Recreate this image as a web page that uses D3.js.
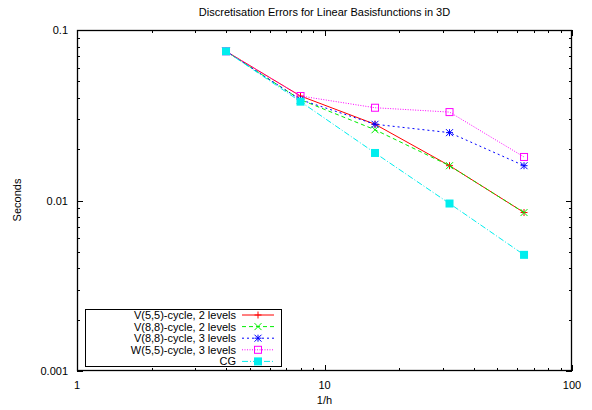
<!DOCTYPE html>
<html>
<head>
<meta charset="utf-8">
<script src="https://cdn.jsdelivr.net/npm/d3@7"></script>
<style>
  html, body { margin: 0; padding: 0; background: #fff; }
  svg { display: block; font-family: "Liberation Sans", Arial, sans-serif; }
</style>
</head>
<body>
<svg id="chart" width="592" height="410"></svg>
<script>
// Mesh refinement 1/h
const meshSizes = [4, 8, 16, 32, 64];

// Time per solver (seconds)
const v55two   = [0.075, 0.041, 0.028, 0.016, 0.0085];
const v88two   = [0.075, 0.039, 0.026, 0.016, 0.0085];
const v88three = [0.075, 0.039, 0.028, 0.025, 0.016];
const w55three = [0.075, 0.041, 0.035, 0.033, 0.018];
const cgTimes  = [0.075, 0.038, 0.019, 0.0096, 0.0048];

const seriesNames = [
  "V(5,5)-cycle, 2 levels",
  "V(8,8)-cycle, 2 levels",
  "V(8,8)-cycle, 3 levels",
  "W(5,5)-cycle, 3 levels",
  "CG"
];

const xTickValues = [1, 10, 100];
const xTickLabels = ["1", "10", "100"];
const yTickValues = [0.001, 0.01, 0.1];
const yTickLabels = ["0.001", "0.01", "0.1"];

const chartTitle = "Discretisation Errors for Linear Basisfunctions in 3D";
const xTitle = "1/h";
const yTitle = "Seconds";

const seriesValues = [v55two, v88two, v88three, w55three, cgTimes];
const styles = [
  { color: "#ff0000", dash: null,        marker: "plus" },
  { color: "#00ee00", dash: "4,3",       marker: "cross" },
  { color: "#0000ff", dash: "2,3",       marker: "star" },
  { color: "#ff00ff", dash: "1,1.5",     marker: "openSquare" },
  { color: "#00eeee", dash: "6,2,1,2",   marker: "filledSquare" }
];

(function draw() {
  const svg = d3.select("#chart");
  const pLeft = 77, pRight = 572, pTop = 30, pBottom = 371;
  const fontSize = 11;

  const x = d3.scaleLog().domain([1, 100]).range([pLeft, pRight]);
  const y = d3.scaleLog().domain([0.001, 0.1]).range([pBottom, pTop]);

  // Minor ticks at 2..9 of each decade
  function minorTicks(domain) {
    const out = [];
    for (let e = Math.log10(domain[0]); e < Math.log10(domain[1]); e++) {
      for (let k = 2; k <= 9; k++) out.push(k * Math.pow(10, e));
    }
    return out;
  }

  // Ticks drawn inward on all four sides
  const tickG = svg.append("g").attr("stroke", "#000").attr("stroke-width", 1);
  const majorLen = 6, minorLen = 3;

  minorTicks([1, 100]).forEach(v => {
    const px = Math.round(x(v)) + 0.5;
    tickG.append("line").attr("x1", px).attr("x2", px).attr("y1", pBottom).attr("y2", pBottom - minorLen);
    tickG.append("line").attr("x1", px).attr("x2", px).attr("y1", pTop).attr("y2", pTop + minorLen);
  });
  xTickValues.forEach(v => {
    const px = Math.round(x(v)) + 0.5;
    tickG.append("line").attr("x1", px).attr("x2", px).attr("y1", pBottom).attr("y2", pBottom - majorLen);
    tickG.append("line").attr("x1", px).attr("x2", px).attr("y1", pTop).attr("y2", pTop + majorLen);
  });
  minorTicks([0.001, 0.1]).forEach(v => {
    const py = Math.round(y(v)) + 0.5;
    tickG.append("line").attr("x1", pLeft).attr("x2", pLeft + minorLen).attr("y1", py).attr("y2", py);
    tickG.append("line").attr("x1", pRight).attr("x2", pRight - minorLen).attr("y1", py).attr("y2", py);
  });
  yTickValues.forEach(v => {
    const py = Math.round(y(v)) + 0.5;
    tickG.append("line").attr("x1", pLeft).attr("x2", pLeft + majorLen).attr("y1", py).attr("y2", py);
    tickG.append("line").attr("x1", pRight).attr("x2", pRight - majorLen).attr("y1", py).attr("y2", py);
  });

  // Tick labels
  const labelG = svg.append("g").attr("font-size", fontSize).attr("fill", "#000");
  xTickValues.forEach((v, i) => {
    labelG.append("text").attr("x", x(v)).attr("y", pBottom + 18)
      .attr("text-anchor", "middle").text(xTickLabels[i]);
  });
  yTickValues.forEach((v, i) => {
    labelG.append("text").attr("x", pLeft - 9).attr("y", y(v) + 4)
      .attr("text-anchor", "end").text(yTickLabels[i]);
  });

  // Titles
  svg.append("text").attr("x", (pLeft + pRight) / 2).attr("y", 16)
    .attr("text-anchor", "middle").attr("font-size", fontSize).text(chartTitle);
  svg.append("text").attr("x", (pLeft + pRight) / 2).attr("y", 404)
    .attr("text-anchor", "middle").attr("font-size", fontSize).text(xTitle);
  svg.append("text").attr("transform", "translate(21,200) rotate(-90)")
    .attr("text-anchor", "middle").attr("font-size", fontSize).text(yTitle);

  // Point markers
  function drawMarker(g, kind, cx, cy, color) {
    const s = 3.5;
    if (kind === "plus") {
      g.append("path").attr("d", `M${cx - s},${cy}H${cx + s}M${cx},${cy - s}V${cy + s}`)
        .attr("stroke", color).attr("fill", "none");
    } else if (kind === "cross") {
      g.append("path").attr("d", `M${cx - s},${cy - s}L${cx + s},${cy + s}M${cx - s},${cy + s}L${cx + s},${cy - s}`)
        .attr("stroke", color).attr("fill", "none");
    } else if (kind === "star") {
      g.append("path").attr("d",
        `M${cx - s},${cy}H${cx + s}M${cx},${cy - s}V${cy + s}M${cx - s},${cy - s}L${cx + s},${cy + s}M${cx - s},${cy + s}L${cx + s},${cy - s}`)
        .attr("stroke", color).attr("fill", "none");
    } else if (kind === "openSquare") {
      g.append("rect").attr("x", cx - s).attr("y", cy - s).attr("width", 2 * s).attr("height", 2 * s)
        .attr("stroke", color).attr("fill", "none");
    } else if (kind === "filledSquare") {
      g.append("rect").attr("x", cx - s - 0.5).attr("y", cy - s - 0.5).attr("width", 2 * s + 1).attr("height", 2 * s + 1)
        .attr("fill", color);
    }
  }

  // Series lines and points
  const line = d3.line().x(d => x(d[0])).y(d => y(d[1]));
  const plotG = svg.append("g");
  seriesValues.forEach((vals, i) => {
    const pts = meshSizes.map((m, j) => [m, vals[j]]);
    const st = styles[i];
    const g = plotG.append("g");
    g.append("path").attr("d", line(pts)).attr("fill", "none")
      .attr("stroke", st.color).attr("stroke-width", 1)
      .attr("stroke-dasharray", st.dash);
    pts.forEach(p => drawMarker(g, st.marker, x(p[0]), y(p[1]), st.color));
  });

  // Frame
  svg.append("rect").attr("x", pLeft + 0.5).attr("y", pTop + 0.5)
    .attr("width", pRight - pLeft - 1).attr("height", pBottom - pTop - 1)
    .attr("fill", "none").attr("stroke", "#000").attr("stroke-width", 1.3);

  // Legend
  const legX = 85, legY = 309, legW = 196, legH = 57, rowH = 11.6;
  const legG = svg.append("g");
  legG.append("rect").attr("x", legX + 0.5).attr("y", legY + 0.5).attr("width", legW).attr("height", legH)
    .attr("fill", "#fff").attr("stroke", "#000");
  seriesNames.forEach((name, i) => {
    const cy = legY + 6 + i * rowH;
    const st = styles[i];
    legG.append("text").attr("x", 236).attr("y", cy + 4).attr("text-anchor", "end")
      .attr("font-size", fontSize).text(name);
    legG.append("line").attr("x1", 242).attr("x2", 274).attr("y1", cy).attr("y2", cy)
      .attr("stroke", st.color).attr("stroke-dasharray", st.dash);
    drawMarker(legG, st.marker, 258, cy, st.color);
  });
})();
</script>
</body>
</html>
